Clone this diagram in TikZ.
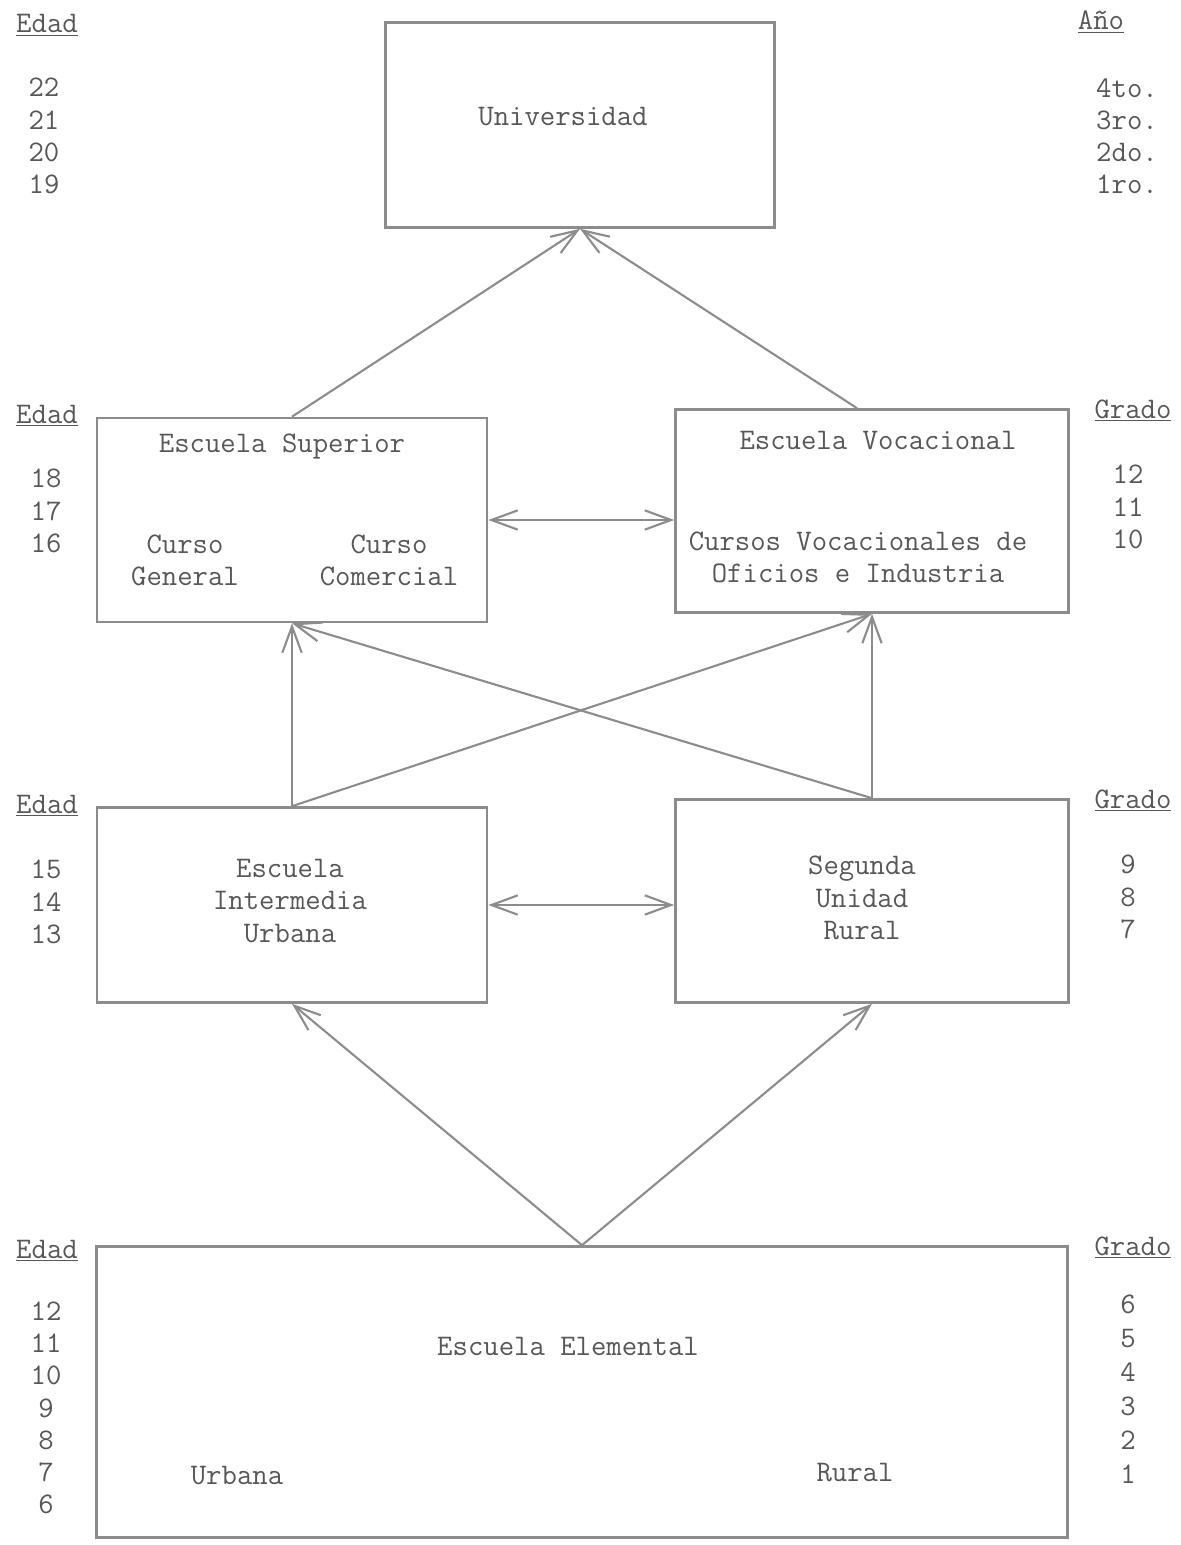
\documentclass[tikz,border=0pt]{standalone}
\usepackage{tikz}
\usetikzlibrary{arrows.meta}
\definecolor{ink}{gray}{0.34}
\definecolor{pencil}{gray}{0.55}

\begin{document}
\begin{tikzpicture}[x=0.2mm,y=-0.2mm,
  font=\fontsize{17}{18.3}\selectfont\ttfamily,
  every node/.style={text=ink},
  caja/.style={draw=pencil,line width=1.5pt,inner sep=0pt},
  flecha/.style={draw=pencil,line width=1.2pt,-{Straight Barb[length=15pt,width=11pt]}},
  doble/.style={draw=pencil,line width=1.2pt,{Straight Barb[length=15pt,width=11pt]}-{Straight Barb[length=15pt,width=11pt]}}]
      \path[use as bounding box] (0,0) rectangle (1180,1545);
      % cajas
      \node[caja,minimum width=7.78cm,minimum height=4.1cm] (univ) at (580,125) {};
      \node[caja,minimum width=7.8cm,minimum height=4.08cm] (sup) at (292,520) {};
      \node[caja,minimum width=7.86cm,minimum height=4.06cm] (voc) at (872,511) {};
      \node[caja,minimum width=7.8cm,minimum height=3.9cm] (inter) at (292,905) {};
      \node[caja,minimum width=7.86cm,minimum height=4.06cm] (seg) at (872,901) {};
      \node[caja,minimum width=19.42cm,minimum height=5.82cm] (elem) at (582,1392) {};
      % textos
      \path (563,117) node (univt) {Universidad};
      \path (282,447) node (supt) {Escuela Superior};
      \path (185,560) node[align=center] (gen) {Curso\\General};
      \path (389,560) node[align=center] (com) {Curso\\Comercial};
      \path (878,441) node (voct) {Escuela Vocacional};
      \path (858,557) node[align=center] (ofi) {Cursos Vocacionales de\\Oficios e Industria};
      \path (290,901) node[align=center] (intert) {Escuela\\Intermedia\\Urbana};
      \path (862,898) node[align=center] (segt) {Segunda\\Unidad\\Rural};
      \path (568,1346) node (elemt) {Escuela Elemental};
      \path (237,1476) node (urb) {Urbana};
      \path (855,1473) node (rur) {Rural};
      % columnas
      \path (47,33) node[anchor=base] (edad1) {\underline{Edad}};
      \path (44,136) node[align=center] (ed1) {22\\21\\20\\19};
      \path (1101,30) node[anchor=base] (anio) {\underline{Año}};
      \path (1127,136) node[align=left] (an1) {4to.\\3ro.\\2do.\\1ro.};
      \path (47,423) node[anchor=base] (edad2) {\underline{Edad}};
      \path (46,511) node[align=center] (ed2) {18\\17\\16};
      \path (1133,418) node[anchor=base] (grado2) {\underline{Grado}};
      \path (1128,507) node[align=center] (gr2) {12\\11\\10};
      \path (47,813) node[anchor=base] (edad3) {\underline{Edad}};
      \path (46,902) node[align=center] (ed3) {15\\14\\13};
      \path (1133,808) node[anchor=base] (grado3) {\underline{Grado}};
      \path (1128,897) node[align=center] (gr3) {9\\8\\7};
      \path (47,1258) node[anchor=base] (edad4) {\underline{Edad}};
      \path (46,1408) node[align=center] (ed4) {12\\11\\10\\9\\8\\7\\6};
      \path (1133,1255) node[anchor=base] (grado4) {\underline{Grado}};
      \path (1128,1389) node[align=center,font=\fontsize{17}{19.3}\selectfont\ttfamily] (gr4) {6\\5\\4\\3\\2\\1};
      % flechas
      \draw[flecha] (sup.north) -- (univ.south);
      \draw[flecha] ([xshift=-0.3cm]voc.north) -- (univ.south);
      \draw[doble] (sup.east) -- (sup.east -| voc.west);
      \draw[flecha] (inter.north) -- (sup.south);
      \draw[flecha] (inter.north) -- (voc.south);
      \draw[flecha] (seg.north) -- (voc.south);
      \draw[flecha] (seg.north) -- (sup.south);
      \draw[doble] (inter.east) -- (inter.east -| seg.west);
      \draw[flecha] (elem.north) -- (inter.south);
      \draw[flecha] (elem.north) -- (seg.south);
\end{tikzpicture}
\end{document}
